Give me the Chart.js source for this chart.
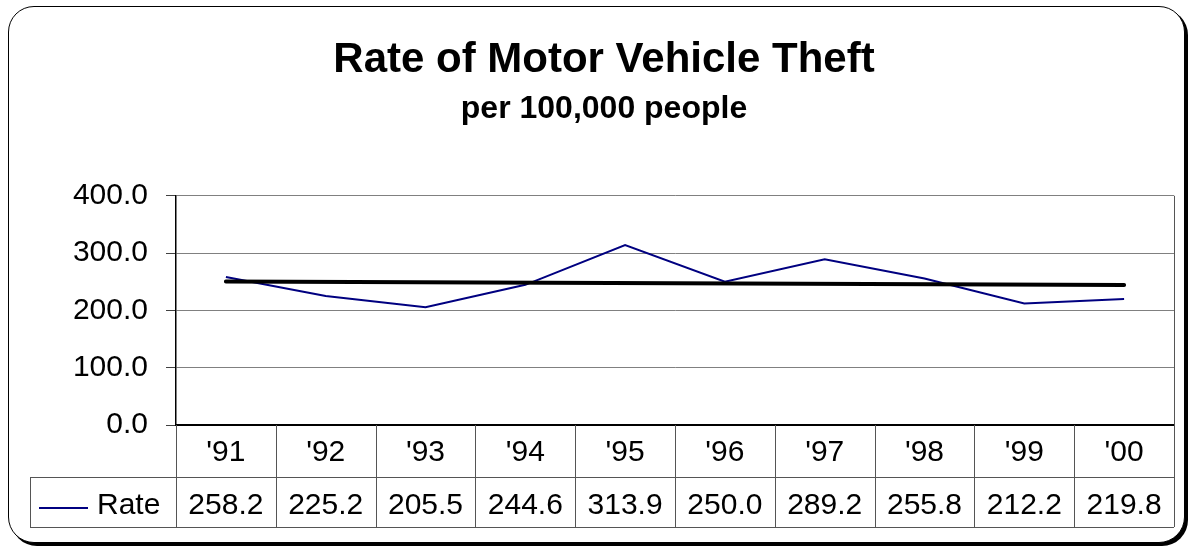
<!DOCTYPE html>
<html>
<head>
<meta charset="utf-8">
<script src="https://cdn.jsdelivr.net/npm/chart.js@4.4.1/dist/chart.umd.min.js"></script>
<style>
    body { margin: 0; background: #fff; }
    #wrap { position: relative; width: 1191px; height: 550px; }
    #frame {
        position: absolute; left: 8px; top: 6px; width: 1175px; height: 535px;
        border: 1.5px solid #000; border-radius: 26px;
        box-shadow: 3px 3px 0 #000; background: #fff;
    }
    #theftChart { position: absolute; left: 0; top: 0; }
</style>
</head>
<body>
<div id="wrap">
    <div id="frame"></div>
    <canvas id="theftChart" width="1191" height="550"></canvas>
</div>
<script>
const years = ["'91", "'92", "'93", "'94", "'95", "'96", "'97", "'98", "'99", "'00"];
const rate = [258.2, 225.2, 205.5, 244.6, 313.9, 250.0, 289.2, 255.8, 212.2, 219.8];
// trend line: only the two ends
const trend = [250.6, null, null, null, null, null, null, null, null, 244.3];
const yTicks = [0, 100, 200, 300, 400];

const FONT = "'Liberation Sans', Arial, sans-serif";
const TABLE_BOTTOM = 527;
const ROW_SPLIT = 477;
const TABLE_LEFT = 30;

// data table under the plot (Excel style)
const dataTable = {
    id: 'dataTable',
    afterDraw(chart) {
        const { ctx, chartArea } = chart;
        const x = chart.scales.x;
        const step = (chartArea.right - chartArea.left) / years.length;
        ctx.save();
        ctx.strokeStyle = '#555';
        ctx.lineWidth = 1;
        ctx.beginPath();
        // right border of plot
        ctx.moveTo(chartArea.right + 0.5, chartArea.top);
        ctx.lineTo(chartArea.right + 0.5, chartArea.bottom);
        for (let i = 0; i <= years.length; i++) {
            const px = Math.round(chartArea.left + i * step) + 0.5;
            ctx.moveTo(px, chartArea.bottom);
            ctx.lineTo(px, TABLE_BOTTOM);
        }
        ctx.moveTo(TABLE_LEFT, ROW_SPLIT + 0.5);
        ctx.lineTo(chartArea.right, ROW_SPLIT + 0.5);
        ctx.moveTo(TABLE_LEFT, TABLE_BOTTOM + 0.5);
        ctx.lineTo(chartArea.right, TABLE_BOTTOM + 0.5);
        ctx.moveTo(TABLE_LEFT + 0.5, ROW_SPLIT);
        ctx.lineTo(TABLE_LEFT + 0.5, TABLE_BOTTOM);
        ctx.stroke();

        // legend key
        ctx.strokeStyle = '#000080';
        ctx.lineWidth = 2;
        ctx.beginPath();
        ctx.moveTo(39, 508);
        ctx.lineTo(88, 508);
        ctx.stroke();

        ctx.fillStyle = '#000';
        ctx.font = '30px ' + FONT;
        ctx.textBaseline = 'middle';
        ctx.textAlign = 'left';
        ctx.fillText('Rate', 97, 506);
        ctx.textAlign = 'center';
        rate.forEach((v, i) => {
            ctx.fillText(v.toFixed(1), x.getPixelForValue(i), 506);
        });
        ctx.restore();
    }
};

const ctx = document.getElementById('theftChart').getContext('2d');
const theftChart = new Chart(ctx, {
    type: 'line',
    data: {
        labels: years,
        datasets: [
            { label: 'Trend', data: trend, borderColor: '#000', borderWidth: 4, pointRadius: 0, spanGaps: true, borderCapStyle: 'round' },
            { label: 'Rate', data: rate, borderColor: '#000080', borderWidth: 2, pointRadius: 0, tension: 0 }
        ]
    },
    options: {
        responsive: false,
        animation: false,
        layout: { padding: { left: 34, right: 17, top: 0, bottom: 23 } },
        plugins: {
            legend: { display: false },
            tooltip: { enabled: false },
            title: {
                display: true,
                text: 'Rate of Motor Vehicle Theft',
                color: '#000',
                font: { family: FONT, size: 42, weight: 'bold' },
                padding: { top: 35, bottom: 5 }
            },
            subtitle: {
                display: true,
                text: 'per 100,000 people',
                color: '#000',
                font: { family: FONT, size: 32, weight: 'bold' },
                padding: { top: 0, bottom: 67 }
            }
        },
        scales: {
            x: {
                offset: true,
                grid: { display: false, drawTicks: false },
                border: { color: '#000', width: 2 },
                ticks: { color: '#000', font: { family: FONT, size: 30 }, padding: 10, maxRotation: 0 },
                afterFit(scale) { scale.height = 102; }
            },
            y: {
                min: 0,
                max: 400,
                afterBuildTicks(scale) { scale.ticks = yTicks.map(v => ({ value: v })); },
                grid: { color: '#808080', tickColor: '#404040', tickLength: 10 },
                border: { color: '#000', width: 1.5 },
                ticks: {
                    color: '#000',
                    padding: 18,
                    font: { family: FONT, size: 30 },
                    callback: v => v.toFixed(1)
                },
                afterFit(scale) { scale.width = 142; }
            }
        }
    },
    plugins: [dataTable]
});
</script>
</body>
</html>
